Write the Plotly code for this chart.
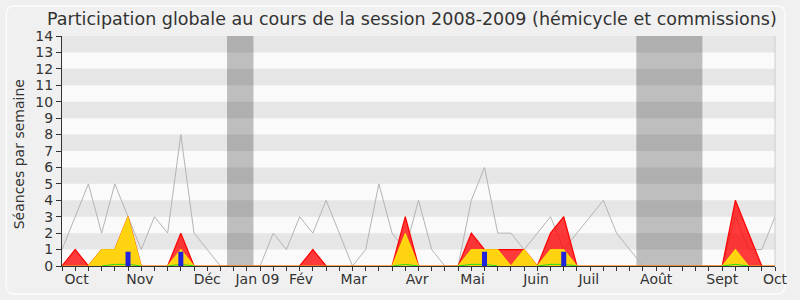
import plotly.graph_objects as go

# ---- data (weekly, index 0..54) ----
weeks = list(range(55))
total = [1,3,5,2,5,3,1,3,2,8,2,1,0,0,0,0,2,1,3,2,4,2,0,1,5,2,1,4,1,0,0,4,6,2,2,1,2,3,1,2,3,4,2,1,0,0,0,0,0,0,0,3,1,1,3]
red_vals = [0,1,0,1,1,3,0,0,0,2,0,0,0,0,0,0,0,0,0,1,0,0,0,0,0,0,3,0,0,0,0,2,1,1,1,1,0,2,3,0,0,0,0,0,0,0,0,0,0,0,0,4,2,0,0]
yellow_vals = [0,0,0,1,1,3,0,0,0,1,0,0,0,0,0,0,0,0,0,0,0,0,0,0,0,0,2,0,0,0,0,1,1,1,0,1,0,1,1,0,0,0,0,0,0,0,0,0,0,0,0,1,0,0,0]
green_vals = [None,None,None,0,0.1,0.1,0,None,0,0.1,0,None,None,None,None,None,None,None,None,None,None,None,None,None,None,0,0.1,0,None,None,0,0.1,0.1,0,None,None,0,0.1,0.1,0,None,None,None,None,None,None,None,None,None,None,0,0.1,0,None,None]
blue_weeks = [5, 9, 32, 38]
blue_vals = [0.87, 0.87, 0.87, 0.87]
holidays = [(12.5, 14.5), (43.5, 48.5)]
month_pos = [1.1, 5.9, 11, 14.8, 18.1, 22.1, 26.9, 31.1, 35.9, 39.9, 45, 50, 54]
month_txt = ["Oct", "Nov", "Déc", "Jan 09", "Fév", "Mar", "Avr", "Mai", "Juin", "Juil", "Août", "Sept", "Oct"]
y_ticks = list(range(15))

FONT = "DejaVu Sans"
TXT = "#333333"

L, R, T, B = 62, 780, 36, 266
def px(x):
    return (x - L) / (R - L)
def py(y):
    return (B - y) / (B - T)

fig = go.Figure()
fig.add_trace(go.Scatter(x=weeks, y=total, mode="lines",
                         line=dict(color="#b4b4b4", width=1), hoverinfo="skip"))
fig.add_trace(go.Scatter(x=weeks, y=red_vals, mode="lines", fill="tozeroy",
                         fillcolor="rgba(255,0,0,0.77)",
                         line=dict(color="#ff0000", width=1.2), hoverinfo="skip"))
fig.add_trace(go.Scatter(x=weeks, y=yellow_vals, mode="lines", fill="tozeroy",
                         fillcolor="#ffd30f",
                         line=dict(color="rgba(255,255,0,0.6)", width=1.2), hoverinfo="skip"))
fig.add_trace(go.Scatter(x=weeks, y=green_vals, mode="lines", connectgaps=False,
                         line=dict(color="#22dd22", width=1), hoverinfo="skip"))
# blue bars drawn as thick vertical segments so they sit above the areas
bx, by = [], []
for w, v in zip(blue_weeks, blue_vals):
    bx += [w, w, None]
    by += [0, v, None]
fig.add_trace(go.Scatter(x=bx, y=by, mode="lines", connectgaps=False,
                         line=dict(color="#2222dd", width=5), hoverinfo="skip"))

shapes = []
for a, b in holidays:
    shapes.append(dict(type="rect", xref="x", yref="y", x0=a, x1=b, y0=0, y1=14,
                       fillcolor="#bebebe", line=dict(width=0), layer="below"))
for k in range(1, 14, 2):
    shapes.append(dict(type="rect", xref="x", yref="y", x0=0, x1=54, y0=k, y1=k + 1,
                       fillcolor="rgba(0,0,0,0.08)", line=dict(width=0), layer="below"))
shapes.append(dict(type="line", xref="paper", yref="paper", x0=1, x1=1, y0=0, y1=1,
                   line=dict(color="#cccccc", width=1)))
# rounded outer frame
x0, x1, y0, y1, r = 6, 790, 6, 294, 8
rx, ry = r / (R - L), r / (B - T)
path = (f"M {px(x0)+rx},{py(y0)} L {px(x1)-rx},{py(y0)} Q {px(x1)},{py(y0)} {px(x1)},{py(y0)-ry} "
        f"L {px(x1)},{py(y1)+ry} Q {px(x1)},{py(y1)} {px(x1)-rx},{py(y1)} "
        f"L {px(x0)+rx},{py(y1)} Q {px(x0)},{py(y1)} {px(x0)},{py(y1)+ry} "
        f"L {px(x0)},{py(y0)-ry} Q {px(x0)},{py(y0)} {px(x0)+rx},{py(y0)} Z")
shapes.append(dict(type="path", xref="paper", yref="paper", path=path,
                   line=dict(color="#fbfbfb", width=1.5), layer="below"))

fig.update_layout(
    width=800, height=300,
    margin=dict(l=L, r=800 - R, t=T, b=300 - B),
    paper_bgcolor="#f0f0f0", plot_bgcolor="#fafafa",
    showlegend=False,
    font=dict(family=FONT, size=14, color=TXT),
    shapes=shapes,
    xaxis=dict(range=[0, 54], showgrid=False, zeroline=False,
               tickmode="array", tickvals=month_pos, ticktext=month_txt,
               ticks="outside", ticklen=0, tickcolor=TXT,
               minor=dict(tickmode="linear", tick0=0, dtick=1, ticks="outside",
                          ticklen=4, tickcolor="#333333", showgrid=False),
               showline=True, linecolor="#333333", linewidth=1,
               tickfont=dict(size=14, color=TXT, family=FONT)),
    xaxis2=dict(range=[0, 54], overlaying="x", side="top", showgrid=False,
                zeroline=False, showline=False, showticklabels=False,
                tickmode="linear", tick0=0, dtick=1, ticks="outside", ticklen=2,
                tickcolor="#333333"),
    yaxis=dict(range=[0, 14], tickmode="array", tickvals=y_ticks,
               showgrid=False, zeroline=False, ticks="outside", ticklen=5,
               tickcolor=TXT, showline=True, linecolor="#333333", linewidth=1,
               tickfont=dict(size=14, color=TXT, family=FONT)),
    annotations=[
        dict(text="Participation globale au cours de la session 2008-2009 (hémicycle et commissions)",
             xref="paper", yref="paper", x=px(414.5), y=py(19), xanchor="center", yanchor="middle",
             showarrow=False, font=dict(family=FONT, size=17.5, color=TXT)),
        dict(text="Séances par semaine", xref="paper", yref="paper", x=px(19), y=py(154),
             xanchor="center", yanchor="middle", textangle=-90, showarrow=False,
             font=dict(family=FONT, size=14, color=TXT)),
    ],
)

fig.write_html("out.html")
